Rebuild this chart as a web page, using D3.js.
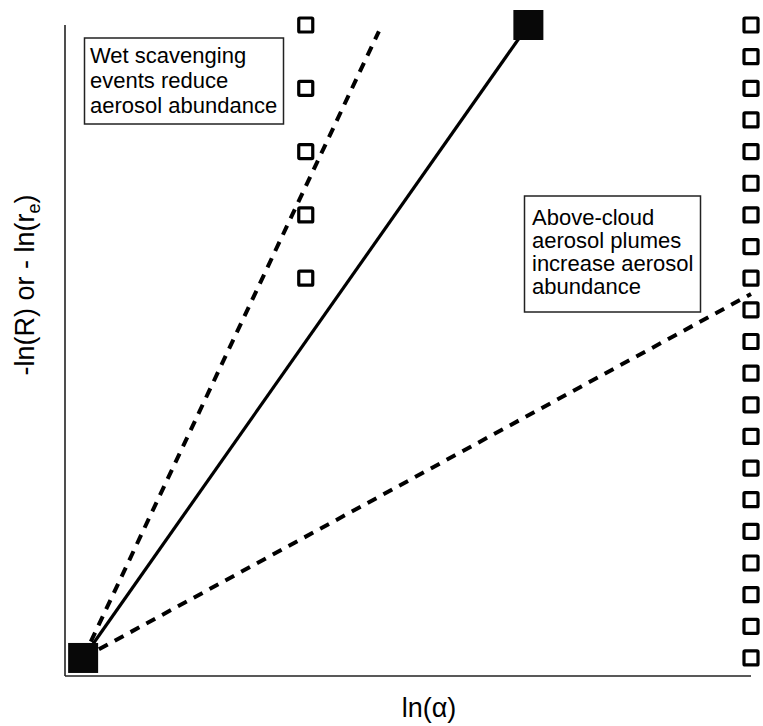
<!DOCTYPE html>
<html>
<head>
<meta charset="utf-8">
<script src="https://cdn.jsdelivr.net/npm/d3@7"></script>
<style>
  body { margin: 0; background: #fff; }
  svg { display: block; font-family: "Liberation Sans", Arial, sans-serif; }
</style>
</head>
<body>
<svg id="chart"></svg>
<script>
// schematic values, in arbitrary ln units
const leftColX = 7;
const leftColRows = [12, 14, 16, 18, 20];
const rightColX = 21;
const rightColRows = [0, 1, 2, 3, 4, 5, 6, 7, 8, 9, 10, 11, 12, 13, 14, 15, 16, 17, 18, 19, 20];
const filledPoints = [{ x: 0, y: 0 }, { x: 14, y: 20 }];
const solidLine = [{ x: 0, y: 0 }, { x: 14, y: 20 }];
const dashedLines = [
  [{ x: 0, y: 0 }, { x: 9.3, y: 19.8 }],
  [{ x: 0, y: 0 }, { x: 21, y: 11.5 }]
];
const boxTexts = [
  ['Wet scavenging', 'events reduce', 'aerosol abundance'],
  ['Above-cloud', 'aerosol plumes', 'increase aerosol', 'abundance']
];

const W = 763, H = 726;
const svg = d3.select('#chart').attr('width', W).attr('height', H);

const x = d3.scaleLinear().domain([-0.57, 21]).range([65, 751]);
const y = d3.scaleLinear().domain([-0.57, 20]).range([676, 25]);

// axes (plain lines, no ticks)
svg.append('line')
  .attr('x1', x(-0.57)).attr('x2', x(-0.57))
  .attr('y1', y(20)).attr('y2', y(-0.57))
  .attr('stroke', '#222').attr('stroke-width', 1.6);
svg.append('line')
  .attr('x1', x(-0.57)).attr('x2', x(21))
  .attr('y1', y(-0.57)).attr('y2', y(-0.57))
  .attr('stroke', '#222').attr('stroke-width', 1.6);

const line = d3.line().x(d => x(d.x)).y(d => y(d.y));

// open squares
const openPts = leftColRows.map(r => ({ x: leftColX, y: r }))
  .concat(rightColRows.map(r => ({ x: rightColX, y: r })));
svg.append('g')
  .selectAll('rect')
  .data(openPts)
  .enter()
  .append('rect')
  .attr('x', d => x(d.x) - 7)
  .attr('y', d => y(d.y) - 7)
  .attr('width', 14)
  .attr('height', 14)
  .attr('rx', 1)
  .attr('fill', 'none')
  .attr('stroke', '#000')
  .attr('stroke-width', 3.2);

// lines
svg.append('path')
  .datum(solidLine)
  .attr('d', line)
  .attr('fill', 'none')
  .attr('stroke', '#000')
  .attr('stroke-width', 3.2);

svg.append('g')
  .selectAll('path')
  .data(dashedLines)
  .enter()
  .append('path')
  .attr('d', line)
  .attr('fill', 'none')
  .attr('stroke', '#000')
  .attr('stroke-width', 4)
  .attr('stroke-dasharray', '10,8');

// filled squares
svg.append('g')
  .selectAll('rect')
  .data(filledPoints)
  .enter()
  .append('rect')
  .attr('x', d => x(d.x) - 15)
  .attr('y', d => y(d.y) - 15)
  .attr('width', 30)
  .attr('height', 30)
  .attr('fill', '#080808');

// annotation boxes
const boxes = [
  { x0: 84.5, y0: 38, w: 199, h: 86, tx: 90, ty: 63, dy: 25, lines: boxTexts[0] },
  { x0: 524.5, y0: 196, w: 176, h: 116, tx: 532, ty: 224.5, dy: 23, lines: boxTexts[1] }
];
boxes.forEach(b => {
  svg.append('rect')
    .attr('x', b.x0).attr('y', b.y0)
    .attr('width', b.w).attr('height', b.h)
    .attr('fill', '#fff')
    .attr('stroke', '#222')
    .attr('stroke-width', 1.5);
  svg.append('g')
    .selectAll('text')
    .data(b.lines)
    .enter()
    .append('text')
    .attr('x', b.tx)
    .attr('y', (d, i) => b.ty + i * b.dy)
    .style('font-size', '22px')
    .style('fill', '#000')
    .text(d => d);
});

// axis labels
svg.append('text')
  .attr('x', 429)
  .attr('y', 717)
  .attr('text-anchor', 'middle')
  .style('font-size', '27px')
  .text('ln(α)');

const yl = svg.append('text')
  .attr('transform', 'translate(34,285) rotate(-90)')
  .attr('text-anchor', 'middle')
  .style('font-size', '27px');
yl.append('tspan').text('-ln(R) or - ln(r');
yl.append('tspan').attr('dy', 6).style('font-size', '18px').text('e');
yl.append('tspan').attr('dy', -6).text(')');
</script>
</body>
</html>
